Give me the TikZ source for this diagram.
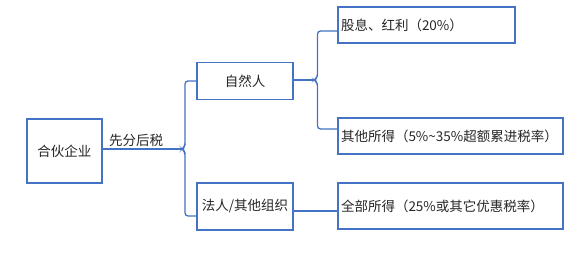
\documentclass[tikz,border=0pt]{standalone}
\usepackage{fontspec}
\setmainfont{Noto Sans CJK SC}
\usetikzlibrary{positioning}
\definecolor{boxblue}{HTML}{4472C4}
\definecolor{inkgray}{HTML}{262626}
\begin{document}
\begin{tikzpicture}[x=1pt, y=1pt,
    box/.style={draw=boxblue, line width=1.4pt, text=inkgray,
      font=\fontsize{13.5}{15}\selectfont, inner sep=0pt},
    wide/.style={box, align=left, text width=#1, inner xsep=3pt},
    link/.style={draw=boxblue, line width=1.3pt}]
  \useasboundingbox (0,0) rectangle (582,253);
  % boxes
  \node[box, minimum width=75, minimum height=64] (firm) at (64.5,102) {合伙企业};
  \node[box, minimum width=96, minimum height=37] (natural) at (245,172) {自然人};
  \node[box, minimum width=96, minimum height=47] (legal) at (245,46.5) {法人/其他组织};
  \node[wide=171pt, minimum height=36] (dividend) at (426.5,228) {股息、红利（20\%）};
  \node[wide=219pt, minimum height=36] (other) at (450.5,117) {其他所得（5\%\textasciitilde35\%超额累进税率）};
  \node[wide=219pt, minimum height=46] (all) at (450.5,47) {全部所得（25\%或其它优惠税率）};
  % brace tips
  \coordinate (t1) at (182,104);
  \coordinate (t2) at (314,173);
  % connectors
  \draw[link] (firm.east |- t1) -- node[above, pos=.42, text=inkgray,
    font=\fontsize{13.5}{15}\selectfont, inner sep=2pt] {先分后税} (t1);
  \draw[link, rounded corners=3pt] (natural.west) -| ([xshift=3pt, yshift=3pt]t1)
    -- (t1) -- ([xshift=3pt, yshift=-3pt]t1) |- ([yshift=-9.5pt]legal.west);
  \draw[link] (natural.east |- t2) -- (t2);
  \draw[link, rounded corners=3pt] ([yshift=-6pt]dividend.west) -| ([xshift=3.5pt, yshift=3pt]t2)
    -- (t2) -- ([xshift=3.5pt, yshift=-3pt]t2) |- ([yshift=7pt]other.west);
  \draw[link] ([yshift=-4.5pt]legal.east) -- ([yshift=-5pt]all.west);
\end{tikzpicture}
\end{document}
